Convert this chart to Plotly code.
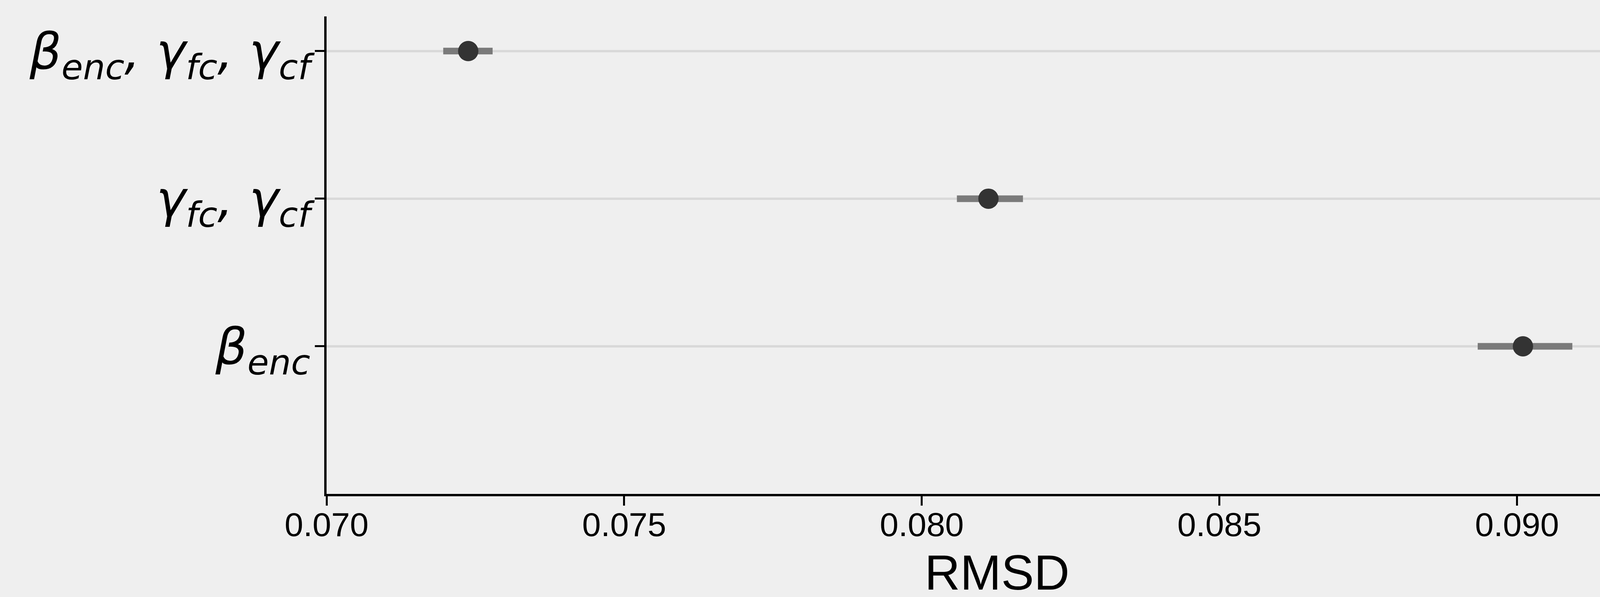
import plotly.graph_objects as go

# Data
categories = [
    "<i>β<sub>enc</sub></i>",
    "<i>γ<sub>fc</sub>, γ<sub>cf</sub></i>",
    "<i>β<sub>enc</sub>, γ<sub>fc</sub>, γ<sub>cf</sub></i>",
]
positions = [1, 2, 3]
rmsd = [0.0901, 0.08112, 0.07238]
lower = [0.08934, 0.08059, 0.07196]
upper = [0.09093, 0.08170, 0.07279]
x_ticks = [0.070, 0.075, 0.080, 0.085, 0.090]

err_plus = [u - m for u, m in zip(upper, rmsd)]
err_minus = [m - l for m, l in zip(rmsd, lower)]

fig = go.Figure()
fig.add_trace(go.Scatter(
    x=rmsd, y=positions, mode="markers",
    marker=dict(size=52, color="#333333"),
    error_x=dict(type="data", symmetric=False, array=err_plus, arrayminus=err_minus,
                 color="#7a7a7a", thickness=17, width=0),
    showlegend=False,
))

W, H = 4321, 1529
L, R, T, B = 836, 52, 42, 264
PW, PH = W - L - R, H - T - B
fig.update_layout(
    width=W, height=H,
    margin=dict(l=L, r=R, t=T, b=B),
    paper_bgcolor="#efefef", plot_bgcolor="#efefef",
)
fig.add_annotation(text="RMSD", xref="paper", yref="paper", x=0.5, y=(H - B - 1466) / PH,
                   xanchor="center", yanchor="middle", showarrow=False,
                   font=dict(family="Liberation Sans, Arial", size=126, color="black"))
fig.update_xaxes(
    range=[0.070, 0.09253], tickvals=x_ticks, ticktext=[f"{v:.3f}" for v in x_ticks],
    showgrid=False, zeroline=False, automargin=False,
    showline=True, linecolor="black", linewidth=6,
    ticks="outside", ticklen=24, tickwidth=5, tickcolor="black", ticklabelstandoff=-25,
    tickfont=dict(family="Liberation Sans, Arial", size=86, color="black"),
)
fig.update_yaxes(
    range=[0, 3.235], tickvals=positions, ticktext=categories,
    showgrid=True, gridcolor="#d9d9d9", gridwidth=6, zeroline=False, automargin=False,
    showline=True, linecolor="black", linewidth=6,
    ticks="outside", ticklen=24, tickwidth=5, tickcolor="black", ticklabelstandoff=-14,
    tickfont=dict(family="DejaVu Sans", size=128, color="black"),
)

fig.write_html("out.html", config={"displayModeBar": False},
               post_script="document.body.style.margin='0';")
